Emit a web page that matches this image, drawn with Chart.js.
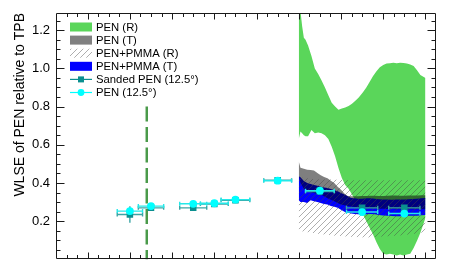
<!DOCTYPE html>
<html>
<head>
<meta charset="utf-8">
<script src="https://cdn.jsdelivr.net/npm/chart.js@4.4.1/dist/chart.umd.min.js"></script>
<style>
    html, body { margin: 0; padding: 0; background: #fff; }
    #wrap { position: relative; width: 469px; height: 264px; }
</style>
</head>
<body>
<div id="wrap"><canvas id="wlse"></canvas></div>
<script>
"use strict";

/* PEN (R) band, wavelength in nm */
var greenNm = [500, 502, 504, 506, 508, 511, 515, 519, 523, 527, 531, 535, 539, 543, 547, 551, 555, 559, 563, 567,
    571, 576, 580, 584, 588, 592, 596, 600, 604, 608, 612, 616, 620, 624, 628, 632, 636, 640, 644, 648, 650];
var penReflHigh = [1.35, 1.30, 1.22, 1.16, 1.15, 1.12, 1.065, 1.0, 0.97, 0.937, 0.90, 0.86, 0.82, 0.80, 0.784,
    0.79, 0.795, 0.803, 0.815, 0.83, 0.848, 0.875, 0.90, 0.93, 0.96, 0.985, 1.006, 1.018, 1.025, 1.027,
    1.03, 1.027, 1.03, 1.028, 1.025, 1.02, 1.012, 0.99, 0.965, 0.955, 0.95];
var penReflLow = [0.63, 0.67, 0.66, 0.65, 0.645, 0.645, 0.677, 0.66, 0.665, 0.66, 0.65, 0.63, 0.59, 0.54, 0.478,
    0.426, 0.39, 0.37, 0.34, 0.31, 0.28, 0.235, 0.2, 0.165, 0.131, 0.09, 0.055, 0.03, 0.025, 0.03,
    0.025, 0.02, 0.025, 0.02, 0.025, 0.03, 0.06, 0.097, 0.14, 0.19, 0.218];

/* PEN (T) and PEN+PMMA (T) bands */
var bandNm = [500, 502, 506, 510, 514, 518, 522, 526, 530, 534, 538, 542, 546, 550, 554, 558, 562, 566, 570, 575,
    580, 585, 590, 595, 600, 605, 610, 615, 620, 625, 630, 635, 640, 645, 650];
var penTransHigh = [0.513, 0.48, 0.475, 0.47, 0.468, 0.465, 0.452, 0.44, 0.432, 0.425, 0.412, 0.40, 0.38, 0.365, 0.345,
    0.332, 0.33, 0.33, 0.331, 0.332, 0.332, 0.333, 0.333, 0.332, 0.332, 0.333, 0.334, 0.334, 0.333, 0.333,
    0.334, 0.335, 0.335, 0.336, 0.336];
var penTransLow = [0.44, 0.40, 0.37, 0.357, 0.352, 0.348, 0.344, 0.34, 0.33, 0.32, 0.312, 0.305, 0.295, 0.288, 0.283,
    0.28, 0.277, 0.274, 0.272, 0.27, 0.268, 0.267, 0.266, 0.265, 0.265, 0.264, 0.264, 0.263, 0.263, 0.263,
    0.262, 0.262, 0.262, 0.262, 0.262];
var pmmaTransHigh = [0.435, 0.43, 0.41, 0.40, 0.395, 0.39, 0.385, 0.38, 0.377, 0.374, 0.368, 0.362, 0.357, 0.348, 0.34,
    0.33, 0.322, 0.32, 0.318, 0.318, 0.32, 0.32, 0.318, 0.315, 0.313, 0.313, 0.312, 0.313, 0.313, 0.313,
    0.315, 0.316, 0.318, 0.32, 0.322];
var pmmaTransLow = [0.31, 0.30, 0.30, 0.295, 0.31, 0.305, 0.30, 0.295, 0.29, 0.287, 0.28, 0.275, 0.27, 0.26, 0.25,
    0.244, 0.24, 0.238, 0.236, 0.235, 0.236, 0.238, 0.237, 0.233, 0.23, 0.228, 0.227, 0.226, 0.226, 0.227,
    0.228, 0.228, 0.229, 0.231, 0.232];

/* PEN+PMMA (R) band */
var hatchNm = [500, 520, 540, 560, 580, 600, 620, 640, 650];
var pmmaReflHigh = [0.43, 0.42, 0.418, 0.415, 0.415, 0.415, 0.415, 0.415, 0.415];
var pmmaReflLow = [0.15, 0.135, 0.125, 0.118, 0.115, 0.12, 0.125, 0.135, 0.145];

/* 12.5 degree measurements */
var pointNm = [300, 325, 375, 400, 425, 475, 525, 575, 625];
var pointNmErr = [15, 15, 16, 16.5, 17, 16.5, 17, 18.5, 18.5];
var penAngle = [0.253, 0.279, 0.291, 0.294, 0.313, 0.412, 0.36, 0.248, 0.24];
var penAngleErr = [0.008, 0.008, 0.008, 0.008, 0.008, 0.008, 0.008, 0.008, 0.008];
var sandedAngle = [0.235, 0.27, 0.27, 0.29, 0.31, 0.414, 0.355, 0.27, 0.27];
var sandedAngleErr = [0.043, 0.01, 0.01, 0.01, 0.01, 0.01, 0.01, 0.01, 0.01];

/* dashed marker */
var markerNm = 320;
var markerTop = 0.8;

var yTickLabels = [0.2, 0.4, 0.6, 0.8, 1.0, 1.2];
var legendLabels = ['PEN (R)', 'PEN (T)', 'PEN+PMMA (R)', 'PEN+PMMA (T)', 'Sanded PEN (12.5\u00b0)', 'PEN (12.5\u00b0)'];

var GREEN = '#5ad65a', GRAY = 'rgba(0,0,0,0.5)', BLUE = '#0000ff';
var TEAL = '#0a8f8f', TEAL_ERR = '#3aa5a5', CYAN = '#00ffff', CYAN_ERR = '#25e8e8';

function pts(xs, ys) {
    return xs.map(function (x, i) { return { x: x, y: ys[i] }; });
}

function makeHatch() {
    var c = document.createElement('canvas');
    c.width = 6; c.height = 6;
    var g = c.getContext('2d');
    g.strokeStyle = 'rgba(70,70,70,0.55)';
    g.lineWidth = 0.8;
    g.beginPath();
    g.moveTo(0, 6); g.lineTo(6, 0);
    g.moveTo(-1, 1); g.lineTo(1, -1);
    g.moveTo(5, 7); g.lineTo(7, 5);
    g.stroke();
    return g.createPattern(c, 'repeat');
}
var hatch = makeHatch();

function band(data, fill, order) {
    return {
        data: data, fill: fill, backgroundColor: fill ? undefined : 'transparent',
        borderColor: 'transparent', borderWidth: 0, pointRadius: 0, order: order
    };
}

/* error bars under the markers */
var errorBars = {
    id: 'errorBars',
    beforeDatasetDraw: function (chart, args) {
        var ds = chart.data.datasets[args.index];
        if (!ds.errX) return;
        var xs = chart.scales.x, ys = chart.scales.y, ctx = chart.ctx;
        ctx.save();
        ctx.strokeStyle = ds.errColor;
        ctx.lineWidth = 1.4;
        ds.data.forEach(function (p, i) {
            var x = xs.getPixelForValue(p.x), y = ys.getPixelForValue(p.y);
            var x0 = xs.getPixelForValue(p.x - ds.errX[i]), x1 = xs.getPixelForValue(p.x + ds.errX[i]);
            var y0 = ys.getPixelForValue(p.y - ds.errY[i]), y1 = ys.getPixelForValue(p.y + ds.errY[i]);
            ctx.beginPath();
            ctx.moveTo(x0, y); ctx.lineTo(x1, y);
            ctx.moveTo(x0, y - 2); ctx.lineTo(x0, y + 2);
            ctx.moveTo(x1, y - 2); ctx.lineTo(x1, y + 2);
            ctx.moveTo(x, y0); ctx.lineTo(x, y1);
            ctx.stroke();
        });
        ctx.restore();
    }
};

/* frame with inward ticks on all four sides */
var frame = {
    id: 'frame',
    afterDraw: function (chart) {
        var a = chart.chartArea, xs = chart.scales.x, ys = chart.scales.y, ctx = chart.ctx;
        var L = Math.round(a.left) + 0.5, R = Math.round(a.right) - 0.5;
        var T = Math.round(a.top) + 0.5, B = Math.round(a.bottom) - 0.5;
        ctx.save();
        ctx.strokeStyle = '#1a1a1a';
        ctx.lineWidth = 1;
        ctx.beginPath();
        ctx.rect(L, T, R - L, B - T);
        var i, v, p, len;
        for (i = 1; i < 36; i++) {
            v = xs.min + i * 12.5;
            p = Math.round(xs.getPixelForValue(v)) + 0.5;
            len = (v % 50 === 0) ? 6 : 3.5;
            ctx.moveTo(p, B); ctx.lineTo(p, B - len);
            ctx.moveTo(p, T); ctx.lineTo(p, T + len);
        }
        for (i = 1; i <= 25; i++) {
            p = Math.round(ys.getPixelForValue(i * 0.05)) + 0.5;
            len = (i % 4 === 0) ? 8 : 4;
            ctx.moveTo(L, p); ctx.lineTo(L + len, p);
            ctx.moveTo(R, p); ctx.lineTo(R - len, p);
        }
        ctx.stroke();
        ctx.restore();
    }
};

/* legend box inside the plot */
var legendBox = {
    id: 'legendBox',
    afterDraw: function (chart) {
        var ctx = chart.ctx;
        var x0 = 70, w = 22, y0 = 27, dy = 13.1;
        ctx.save();
        ctx.font = '11.3px "Liberation Sans", Arial, sans-serif';
        ctx.textBaseline = 'middle';
        ctx.fillStyle = '#000';
        var fills = [GREEN, '#808080', hatch, BLUE];
        legendLabels.forEach(function (txt, i) {
            var y = y0 + i * dy;
            if (i < 4) {
                ctx.fillStyle = fills[i];
                ctx.fillRect(x0, y - 4.5, w, 9);
            } else {
                var col = i === 4 ? TEAL : CYAN;
                ctx.strokeStyle = col;
                ctx.lineWidth = 1.2;
                ctx.beginPath(); ctx.moveTo(x0, y); ctx.lineTo(x0 + w, y); ctx.stroke();
                ctx.fillStyle = col;
                if (i === 4) {
                    ctx.fillRect(x0 + w / 2 - 3, y - 3, 6, 6);
                } else {
                    ctx.beginPath(); ctx.arc(x0 + w / 2, y, 3.4, 0, Math.PI * 2); ctx.fill();
                }
            }
            ctx.fillStyle = '#000';
            ctx.fillText(txt, x0 + w + 4, y + 0.5);
        });
        ctx.restore();
    }
};

Chart.defaults.font.family = '"Liberation Sans", Arial, sans-serif';
Chart.defaults.color = '#000';

var ctx = document.getElementById('wlse').getContext('2d');
var wlseChart = new Chart(ctx, {
    type: 'line',
    data: {
        datasets: [
            band(pts(greenNm, penReflLow), false, 10),
            Object.assign(band(pts(greenNm, penReflHigh), '-1', 10), { backgroundColor: GREEN }),
            band(pts(bandNm, pmmaTransLow), false, 8),
            Object.assign(band(pts(bandNm, pmmaTransHigh), '-1', 8), { backgroundColor: BLUE }),
            band(pts(bandNm, penTransLow), false, 6),
            Object.assign(band(pts(bandNm, penTransHigh), '-1', 6), { backgroundColor: GRAY }),
            band(pts(hatchNm, pmmaReflLow), false, 4),
            Object.assign(band(pts(hatchNm, pmmaReflHigh), '-1', 4), { backgroundColor: hatch }),
            {
                data: [{ x: markerNm, y: markerTop }, { x: markerNm, y: 0 }],
                borderColor: '#4a9a4a', borderWidth: 2.5, borderDash: [15, 5.5],
                pointRadius: 0, fill: false, order: 3
            },
            {
                data: pts(pointNm, sandedAngle), showLine: false, order: 2,
                pointStyle: 'rect', pointRadius: 4.6, pointBorderWidth: 0, pointBackgroundColor: TEAL,
                errX: pointNmErr, errY: sandedAngleErr, errColor: TEAL_ERR
            },
            {
                data: pts(pointNm, penAngle), showLine: false, order: 1,
                pointStyle: 'circle', pointRadius: 3.9, pointBorderWidth: 0, pointBackgroundColor: CYAN,
                errX: pointNmErr, errY: penAngleErr, errColor: CYAN_ERR
            }
        ]
    },
    options: {
        animation: false,
        responsive: true,
        maintainAspectRatio: false,
        events: [],
        layout: { padding: { top: 13, right: 33, bottom: 2, left: 0 } },
        plugins: {
            legend: { display: false },
            tooltip: { enabled: false }
        },
        scales: {
            x: {
                type: 'linear',
                min: 212.5,
                max: 662.5,
                display: false
            },
            y: {
                type: 'linear',
                min: 0,
                max: 1.29,
                grid: { display: false, drawTicks: false },
                border: { display: false },
                afterBuildTicks: function (scale) {
                    scale.ticks = yTickLabels.map(function (v) { return { value: v }; });
                },
                afterFit: function (scale) {
                    scale.width = 56;
                    scale.paddingTop = 0;
                    scale.paddingBottom = 0;
                },
                ticks: {
                    padding: 6,
                    font: { size: 13 },
                    callback: function (v) { return v.toFixed(1); }
                },
                title: {
                    display: true,
                    text: 'WLSE of PEN relative to TPB',
                    align: 'end',
                    font: { size: 14 },
                    padding: { top: 12, bottom: 0 }
                }
            }
        }
    },
    plugins: [errorBars, frame, legendBox]
});
</script>
</body>
</html>
